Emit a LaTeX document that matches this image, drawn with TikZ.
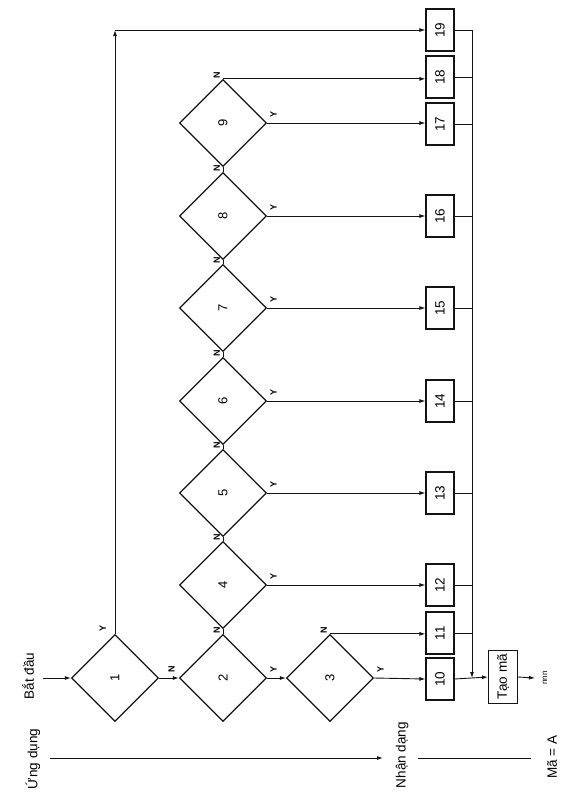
\documentclass[tikz,border=0pt]{standalone}
\usepackage{fontspec}
\setmainfont{Liberation Sans}
\usetikzlibrary{shapes.geometric,arrows.meta,positioning}
\definecolor{inkblack}{RGB}{20,20,20}
\newcommand{\vtext}[1]{\rotatebox{90}{#1}}

\tikzset{
  decision/.style={diamond, aspect=1, draw=inkblack, line width=1.3pt,
    minimum width=87pt, minimum height=87pt, inner sep=0pt,
    font=\fontsize{13}{15}\selectfont},
  stepbox/.style={draw=inkblack, line width=1.1pt, minimum width=28pt,
    minimum height=42pt, inner sep=0pt, font=\fontsize{13.5}{15}\selectfont},
  flow/.style={draw=inkblack, line width=0.9pt},
  arr/.style={flow, -{Latex[length=6pt,width=4pt]}},
  yn/.style={inner sep=0pt, font=\fontsize{9}{10}\selectfont\bfseries},
  caption/.style={inner sep=0pt, font=\fontsize{13.5}{16}\selectfont}
}

\begin{document}
\begin{tikzpicture}[x=1pt,y=-1pt]
\useasboundingbox (0,0) rectangle (576,796);

% decisions
\node[decision] (d1) at (115,678) {\vtext{1}};
\node[decision] (d2) at (223,678) {\vtext{2}};
\node[decision] (d3) at (330,678) {\vtext{3}};
\node[decision] (d4) at (223,585) {\vtext{4}};
\node[decision] (d5) at (223,493) {\vtext{5}};
\node[decision] (d6) at (223,401) {\vtext{6}};
\node[decision] (d7) at (223,308) {\vtext{7}};
\node[decision] (d8) at (223,216) {\vtext{8}};
\node[decision] (d9) at (223,123) {\vtext{9}};

% steps
\node[stepbox] (b10) at (440,679) {\vtext{10}};
\node[stepbox] (b11) at (440,633) {\vtext{11}};
\node[stepbox] (b12) at (440,585) {\vtext{12}};
\node[stepbox] (b13) at (440,493) {\vtext{13}};
\node[stepbox] (b14) at (440,401) {\vtext{14}};
\node[stepbox] (b15) at (440,308) {\vtext{15}};
\node[stepbox] (b16) at (440,216) {\vtext{16}};
\node[stepbox] (b17) at (440,124) {\vtext{17}};
\node[stepbox] (b18) at (440,77) {\vtext{18}};
\node[stepbox] (b19) at (440,30) {\vtext{19}};
\node[stepbox, minimum height=53pt, minimum width=29pt] (taoma) at (503,677) {\vtext{Tạo mã}};

% texts
\node[caption] (lblstart) at (28,676) {\vtext{Bắt đầu}};
\node[caption] (lblapp) at (33,759) {\vtext{Ứng dụng}};
\node[caption] (lblid) at (402,755) {\vtext{Nhận dạng}};
\node[caption] (lblcode) at (552,757) {\vtext{Mã = A}};
\node[inner sep=0pt, font=\fontsize{8}{9}\selectfont] (nnn) at (545,678) {\vtext{nnn}};

\coordinate (start) at (43,678);
\coordinate (top) at (115,30);
\coordinate (busend) at (472,678);
\coordinate (out) at (535,678);
\coordinate (app0) at (50,758);
\coordinate (app1) at (383,758);
\coordinate (id0) at (418,758);
\coordinate (id1) at (531,758);

% main chain
\draw[arr] (start) -- (d1.west);
\draw[arr] (d1.east) -- (d2.west);
\draw[arr] (d2.east) -- (d3.west);
\draw[arr] (d3.east) -- (b10.west);
\draw[arr] (d1.north) -- (top);
\draw[arr] (top) -- (b19.west);
\draw[arr] (d3.north) -- (d3.north -| b11.west);
\draw[flow] (d2.north) -- (d4.south);
\draw[flow] (d4.north) -- (d5.south);
\draw[flow] (d5.north) -- (d6.south);
\draw[flow] (d6.north) -- (d7.south);
\draw[flow] (d7.north) -- (d8.south);
\draw[flow] (d8.north) -- (d9.south);
\draw[arr] (d4.east) -- (b12.west);
\draw[arr] (d5.east) -- (b13.west);
\draw[arr] (d6.east) -- (b14.west);
\draw[arr] (d7.east) -- (b15.west);
\draw[arr] (d8.east) -- (b16.west);
\draw[arr] (d9.east) -- (d9.east -| b17.west);
\draw[arr] (d9.north) -- (d9.north -| b18.west);

% collecting bus
\draw[arr] (b19.east) -| (busend);
\foreach \b in {b11,b12,b13,b14,b15,b16,b17,b18}
  \draw[flow] (\b.east) -- (\b.east -| busend);
\draw[arr] (b10.east) -- (taoma.west);
\draw[arr] (taoma.east) -- (out);

% bottom lines
\draw[arr] (app0) -- (app1);
\draw[flow] (id0) -- (id1);

% Y / N
\node[yn, above left=2pt and 9pt] at (d1.north) {\vtext{Y}};
\node[yn, above left=5pt and 4pt] at (d2.west) {\vtext{N}};
\node[yn, above right=5pt and 3pt] at (d2.east) {\vtext{Y}};
\node[yn, above right=5pt and 3pt] at (d3.east) {\vtext{Y}};
\node[yn, above left=0pt and 3pt] at (d2.north) {\vtext{N}};
\node[yn, above left=0pt and 3pt] at (d3.north) {\vtext{N}};
\node[yn, above left=0pt and 3pt] at (d4.north) {\vtext{N}};
\node[yn, above left=0pt and 3pt] at (d5.north) {\vtext{N}};
\node[yn, above left=0pt and 3pt] at (d6.north) {\vtext{N}};
\node[yn, above left=0pt and 3pt] at (d7.north) {\vtext{N}};
\node[yn, above left=0pt and 3pt] at (d8.north) {\vtext{N}};
\node[yn, above left=0pt and 3pt] at (d9.north) {\vtext{N}};
\node[yn, above right=5pt and 3pt] at (d4.east) {\vtext{Y}};
\node[yn, above right=5pt and 3pt] at (d5.east) {\vtext{Y}};
\node[yn, above right=5pt and 3pt] at (d6.east) {\vtext{Y}};
\node[yn, above right=5pt and 3pt] at (d7.east) {\vtext{Y}};
\node[yn, above right=5pt and 3pt] at (d8.east) {\vtext{Y}};
\node[yn, above right=5pt and 3pt] at (d9.east) {\vtext{Y}};

\end{tikzpicture}
\end{document}
